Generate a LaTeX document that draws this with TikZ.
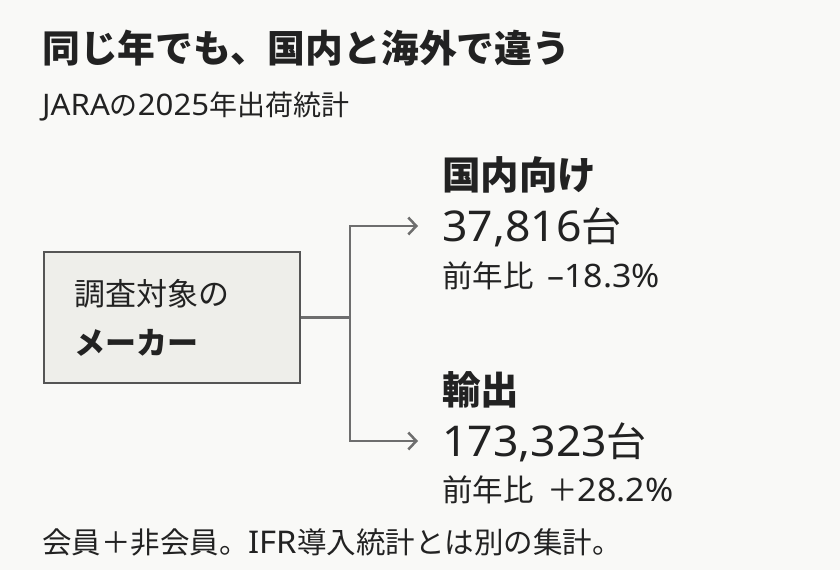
\documentclass[tikz,border=0pt]{standalone}
\usepackage{fontspec}
\setmainfont{Noto Sans CJK JP}
\newfontfamily\latin{Noto Sans}[Scale=1.06,FakeStretch=1.05]
\usetikzlibrary{arrows.meta}
\definecolor{paper}{HTML}{F9F9F7}
\definecolor{ink}{HTML}{222222}
\definecolor{boxfill}{HTML}{EEEEEA}
\definecolor{boxline}{HTML}{555555}
\definecolor{wire}{HTML}{6E6E6E}
\begin{document}
\begin{tikzpicture}[x=1pt,y=-1pt,
    txt/.style={anchor=base west, inner sep=0pt, text=ink},
    box/.style={draw=boxline, fill=boxfill, line width=2pt, text=ink,
      minimum width=256pt, minimum height=131pt},
    wire/.style={draw=wire, line width=2.5pt},
    tip/.style={-{Straight Barb[length=8pt,width=17pt]}}]
    \fill[paper] (0,0) rectangle (840,570);
    \useasboundingbox (0,0) rectangle (840,570);
    % heading
    \node[txt, font=\fontsize{37.8}{40}\selectfont\bfseries] (title) at (42,62) {同じ年でも、国内と海外で違う};
    \node[txt, font=\fontsize{28}{30}\selectfont] (sub) at (42,115) {{\latin JARA}の{\latin 2025}年出荷統計};
    % source box
    \node[box, align=left, text width=196pt, inner xsep=30pt, font=\fontsize{31}{49}\selectfont] (maker) at (172,317.5)
      {調査対象の\\\textbf{メーカー}};
    \coordinate (split) at (350,317.5);
    \coordinate (domtip) at (418,226);
    \coordinate (exptip) at (418,441);
    % branches
    \node[txt, font=\fontsize{38.5}{40}\selectfont\bfseries] (domhead) at (442,189) {国内向け};
    \node[txt, font=\fontsize{40}{44}\selectfont] (domval) at (442,241) {{\latin 37,816}台};
    \node[txt, font=\fontsize{30.5}{32}\selectfont] (domrate) at (442,287) {前年比\hspace{.45em}{\latin –18.3\%}};
    \node[txt, font=\fontsize{38.5}{40}\selectfont\bfseries] (exphead) at (442,404) {輸出};
    \node[txt, font=\fontsize{40}{44}\selectfont] (expval) at (442,456) {{\latin 173,323}台};
    \node[txt, font=\fontsize{30.5}{32}\selectfont] (exprate) at (442,501) {前年比\hspace{.45em}＋{\latin 28.2\%}};
    \node[txt, font=\fontsize{29.5}{30}\selectfont] (note) at (42,553) {会員＋非会員。{\latin IFR}導入統計とは別の集計。};
    % connectors
    \draw[wire] (maker.east) -- (split);
    \foreach \t in {domtip,exptip}
      \draw[wire, tip] (split) |- (\t);
  \end{tikzpicture}
\end{document}
